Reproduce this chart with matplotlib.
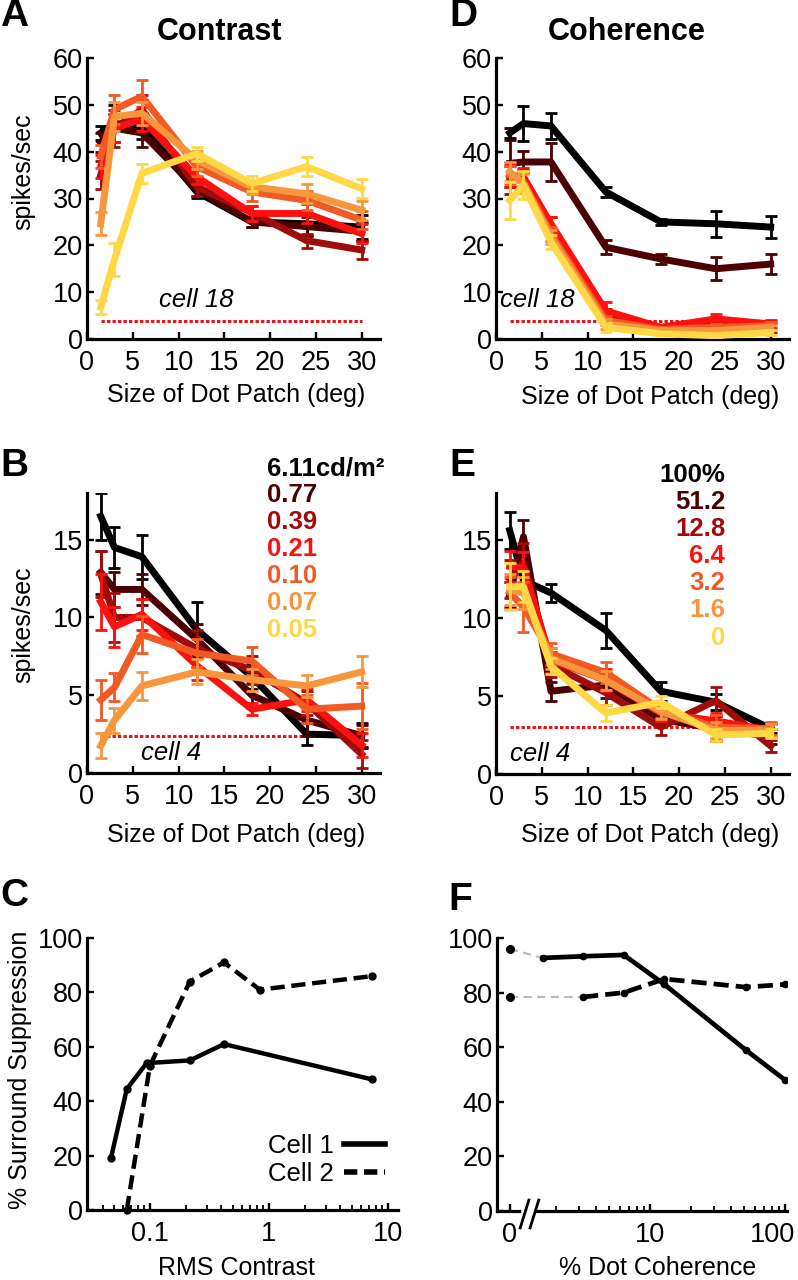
import numpy as np
import matplotlib.pyplot as plt
from matplotlib.lines import Line2D
from matplotlib.ticker import NullFormatter
from matplotlib.transforms import ScaledTranslation

plt.rcParams['font.family'] = ['Liberation Sans', 'DejaVu Sans']

# ---------------------------------------------------------------- data
sizes = [1.5, 3, 6, 12, 18, 24, 30]  # dot patch size (deg)

contrast_labels = ["6.11cd/m²", "0.77", "0.39", "0.21", "0.10", "0.07", "0.05"]
coherence_labels = ["100%", "51.2", "12.8", "6.4", "3.2", "1.6", "0"]
colors = ["#000000", "#4d0000", "#a00c0c", "#ff1010", "#f25a24", "#f7963c", "#ffd945"]

# A: contrast, cell 18 (rows follow contrast_labels)
a_mean = [
    [44.0, 46.0, 45.5, 31.4, 25.0, 24.6, 23.9],
    [42.0, 45.0, 44.0, 32.0, 25.0, 24.0, 23.0],
    [35.0, 45.0, 49.0, 32.5, 27.0, 21.0, 19.0],
    [36.8, 45.0, 47.0, 34.6, 26.8, 26.8, 22.5],
    [39.0, 49.0, 51.8, 36.8, 31.4, 29.6, 25.4],
    [24.6, 47.5, 48.2, 38.2, 32.5, 31.0, 27.5],
    [6.8, 17.0, 35.4, 39.6, 33.2, 36.8, 32.1],
]
a_err = [
    [1.5, 4.0, 2.8, 1.2, 1.0, 2.3, 2.5],
    [2.0, 3.0, 3.0, 1.5, 1.0, 2.0, 2.0],
    [3.0, 4.0, 3.0, 2.0, 1.5, 1.5, 2.0],
    [2.5, 3.0, 2.5, 1.5, 1.5, 2.0, 2.0],
    [2.5, 3.0, 3.5, 2.0, 2.0, 2.0, 2.0],
    [2.5, 3.0, 2.5, 2.0, 1.5, 2.0, 2.0],
    [1.5, 3.5, 2.0, 1.5, 1.5, 2.0, 2.0],
]
a_base = 3.9

# D: coherence, cell 18 (rows follow coherence_labels)
d_mean = [
    [44.0, 46.0, 45.5, 31.4, 25.0, 24.6, 23.9],
    [37.5, 37.8, 37.8, 19.6, 17.1, 15.0, 16.0],
    [34.0, 34.0, 24.0, 5.0, 2.0, 3.0, 2.5],
    [35.0, 34.6, 24.6, 6.0, 2.5, 4.3, 3.2],
    [35.0, 33.5, 22.5, 4.0, 2.0, 2.5, 2.8],
    [35.7, 33.2, 21.8, 3.2, 1.8, 1.8, 2.5],
    [29.6, 32.9, 20.7, 2.5, 1.1, 0.7, 1.4],
]
d_err = [
    [1.0, 3.7, 2.8, 1.0, 0.7, 2.8, 2.3],
    [5.0, 2.3, 4.0, 1.5, 1.0, 2.5, 2.2],
    [3.0, 2.0, 2.0, 1.5, 0.8, 1.0, 1.0],
    [2.5, 2.0, 1.5, 2.0, 0.5, 1.0, 0.8],
    [2.0, 2.0, 1.5, 1.0, 0.5, 0.8, 0.8],
    [2.0, 2.0, 1.5, 1.0, 0.5, 0.5, 0.5],
    [4.0, 3.0, 1.5, 1.0, 0.3, 0.3, 0.5],
]
d_base = 3.9

# B: contrast, cell 4 (no curve for the lowest contrast)
b_mean = [
    [16.5, 14.5, 13.9, 9.2, 6.2, 2.5, 2.4],
    [12.9, 11.8, 11.8, 8.6, 5.0, 3.4, 2.4],
    [12.8, 10.0, 10.0, 8.0, 6.6, 4.5, 1.2],
    [11.0, 9.4, 10.2, 6.9, 4.1, 4.7, 1.8],
    [4.7, 5.5, 8.9, 7.7, 7.2, 4.1, 4.3],
    [1.75, 3.4, 5.6, 6.5, 6.0, 5.6, 6.5],
    None,
]
b_err = [
    [1.5, 1.3, 1.4, 1.8, 0.8, 0.7, 0.8],
    [1.4, 1.1, 1.0, 1.0, 0.8, 1.0, 0.7],
    [1.5, 1.6, 1.2, 1.2, 0.9, 0.8, 0.9],
    [1.8, 1.3, 1.0, 0.9, 0.4, 0.7, 0.8],
    [1.3, 0.9, 1.2, 0.9, 0.9, 0.9, 1.5],
    [0.8, 0.8, 0.9, 0.8, 0.7, 0.7, 1.0],
    None,
]
b_base = 2.4

# E: coherence, cell 4
e_mean = [
    [15.6, 12.4, 11.6, 9.2, 5.3, 4.6, 2.9],
    [11.5, 15.2, 5.3, 5.7, 3.5, 2.9, 2.4],
    [12.5, 13.5, 7.0, 5.2, 3.0, 4.7, 1.8],
    [13.3, 13.2, 7.3, 6.0, 3.9, 3.4, 2.8],
    [11.6, 10.7, 7.7, 6.5, 4.1, 3.0, 2.9],
    [11.8, 11.6, 7.4, 6.0, 4.0, 2.8, 2.8],
    [12.0, 12.0, 6.9, 3.9, 4.6, 2.5, 2.6],
]
e_err = [
    [1.2, 0.8, 0.6, 1.1, 0.6, 0.5, 0.3],
    [0.8, 1.1, 0.6, 0.8, 0.4, 0.8, 0.5],
    [1.2, 1.3, 0.8, 0.8, 0.5, 0.9, 0.4],
    [1.0, 1.0, 0.8, 0.7, 0.5, 0.5, 0.4],
    [1.0, 1.6, 0.7, 0.7, 0.5, 0.8, 0.4],
    [1.0, 1.0, 0.7, 0.6, 0.5, 0.5, 0.4],
    [1.5, 1.0, 0.5, 0.5, 0.4, 0.4, 0.3],
]
e_base = 3.0

# C: surround suppression vs RMS contrast
c1_x = [0.047, 0.064, 0.094, 0.217, 0.42, 7.4]
c1_y = [19, 44.5, 54, 55, 61, 48]
c2_x = [0.064, 0.1, 0.217, 0.42, 0.84, 7.4]
c2_y = [0, 53, 84, 91, 81, 86]

# F: surround suppression vs dot coherence (0% drawn at a stand-in position)
f1_coh = [1.6, 3.2, 6.4, 12.8, 51.2, 100]
f1_y = [92.7, 93.3, 93.8, 83, 59, 48]
f1_zero = 96
f2_coh = [3.2, 6.4, 12.8, 51.2, 100]
f2_y = [78.4, 80, 85, 82, 83]
f2_zero = 78.4

# ---------------------------------------------------------------- layout
W, H = 798, 1280
fig = plt.figure(figsize=(W / 100, H / 100), dpi=100)


def add_ax(l, t, r, b):
    return fig.add_axes([l / W, 1 - b / H, (r - l) / W, (b - t) / H])


def style(ax):
    for s in ("top", "right"):
        ax.spines[s].set_visible(False)
    for s in ("left", "bottom"):
        ax.spines[s].set_linewidth(2.3)
    ax.tick_params(direction="in", width=1.7, length=5, labelsize=19.5)
    ax.tick_params(which="minor", direction="in", width=1.3, length=3.5)
    ax.tick_params(axis="x", pad=8)
    ax.tick_params(axis="y", pad=3)


def set_xlabel(ax, text, x, y):
    ax.set_xlabel(text, fontsize=18)
    ax.xaxis.set_label_coords(x, y)
    ax.xaxis.label.set_verticalalignment("center")


def set_ylabel(ax, text, x, y):
    ax.set_ylabel(text, fontsize=18)
    ax.yaxis.set_label_coords(x, y)
    ax.yaxis.label.set_verticalalignment("center")


def tuning_panel(ax, means, errs, base, ymax, yticks):
    style(ax)
    ax.plot([sizes[0], sizes[-1]], [base, base], color="#e8141c", lw=2.2,
            ls=(0, (1.1, 0.7)), zorder=1)
    for k, (m, e) in enumerate(zip(means, errs)):
        if m is None:
            continue
        ax.errorbar(sizes, m, yerr=e, color=colors[k], lw=5, elinewidth=2,
                    capsize=4.5, capthick=2, zorder=2 + k)
    ax.set_xlim(0, 32)
    ax.set_ylim(0, ymax)
    ax.set_xticks(range(0, 31, 5))
    ax.set_yticks(yticks)


axA = add_ax(87, 58, 380, 339)
tuning_panel(axA, a_mean, a_err, a_base, 60, range(0, 61, 10))
axA.text(11.9, 8.3, "cell 18", style="italic", fontsize=18.5, ha="center", va="center")
set_xlabel(axA, "Size of Dot Patch (deg)", 0.51, -0.199)
set_ylabel(axA, "spikes/sec", -0.218, 0.594)

axD = add_ax(496, 58, 789, 339)
tuning_panel(axD, d_mean, d_err, d_base, 60, range(0, 61, 10))
axD.text(0.4, 8.3, "cell 18", style="italic", fontsize=18.5, ha="left", va="center")
set_xlabel(axD, "Size of Dot Patch (deg)", 0.525, -0.206)

axB = add_ax(87, 493, 380, 773)
tuning_panel(axB, b_mean, b_err, b_base, 18, [0, 5, 10, 15])
axB.text(9.2, 1.3, "cell 4", style="italic", fontsize=18.5, ha="center", va="center")
set_xlabel(axB, "Size of Dot Patch (deg)", 0.51, -0.221)
set_ylabel(axB, "spikes/sec", -0.218, 0.529)
for k, lab in enumerate(contrast_labels):
    axB.text(0.614, 1.089 - k * 0.0964, lab, transform=axB.transAxes, color=colors[k],
             fontsize=18.5, fontweight="bold", ha="left", va="center")

axE = add_ax(496, 493, 789, 774)
tuning_panel(axE, e_mean, e_err, e_base, 18, [0, 5, 10, 15])
axE.text(1.5, 1.3, "cell 4", style="italic", fontsize=18.5, ha="left", va="center")
set_xlabel(axE, "Size of Dot Patch (deg)", 0.525, -0.218)
for k, lab in enumerate(coherence_labels):
    axE.text(0.782, 1.064 - k * 0.0964, lab, transform=axE.transAxes, color=colors[k],
             fontsize=18.5, fontweight="bold", ha="right", va="center")

# C
axC = add_ax(87, 938, 398, 1210)
style(axC)
axC.set_xscale("log")
axC.plot(c1_x, c1_y, color="black", lw=3.2, marker="o", ms=5, clip_on=False)
axC.plot(c2_x, c2_y, color="black", lw=3.2, ls=(0, (3.2, 1.5)), marker="o", ms=5,
         clip_on=False)
axC.set_xlim(0.0296, 12.2)
axC.set_ylim(0, 100)
axC.set_yticks(range(0, 101, 20))
axC.set_xticks([0.1, 1, 10])
axC.set_xticklabels(["0.1", "1", "10"])
axC.xaxis.set_minor_formatter(NullFormatter())
handles = [Line2D([], [], color="black", lw=4),
           Line2D([], [], color="black", lw=4, ls=(0, (2.4, 1.2)))]
axC.legend(handles, ["Cell 1", "Cell 2"], loc="lower right", bbox_to_anchor=(1.0, 0.04),
           frameon=False, markerfirst=False, fontsize=18.5, handlelength=1.6,
           handletextpad=0.4, labelspacing=0.15, borderpad=0)
set_xlabel(axC, "RMS Contrast", 0.482, -0.213)
set_ylabel(axC, "% Surround Suppression", -0.215, 0.515)

# F
zero_pos = 0.918  # where 0% coherence sits on the log axis
axF = add_ax(497, 938, 787, 1211)
style(axF)
axF.set_xscale("log")
axF.plot([zero_pos, f1_coh[0]], [f1_zero, f1_y[0]], color="#b8b8b8", lw=1.5,
         ls=(0, (4, 2.5)))
axF.plot([zero_pos, f2_coh[0]], [f2_zero, f2_y[0]], color="#b8b8b8", lw=1.5,
         ls=(0, (4, 2.5)))
axF.plot([zero_pos, zero_pos], [f1_zero, f2_zero], ls="none", marker="o", ms=5.5,
         color="black")
axF.plot(f1_coh, f1_y, color="black", lw=3.4, marker="o", ms=4.5)
axF.plot(f2_coh, f2_y, color="black", lw=3.4, ls=(0, (3.2, 1.5)), marker="o", ms=4.5)
axF.set_xlim(0.736, 103.5)
axF.set_ylim(0, 100)
axF.set_yticks(range(0, 101, 20))
axF.set_xticks([zero_pos, 10, 100])
axF.set_xticklabels(["0", "10", "100"])
axF.set_xticks(list(range(2, 10)) + list(range(20, 100, 10)), minor=True)
axF.xaxis.set_minor_formatter(NullFormatter())
# keep the "100" label inside the figure
last = axF.get_xticklabels()[-1]
last.set_transform(last.get_transform() + ScaledTranslation(-12 / 100, 0, fig.dpi_scale_trans))
# axis break
axF.plot([0.094, 0.121], [-0.005, -0.005], transform=axF.transAxes, color="white",
         lw=4, clip_on=False, zorder=5)
for x0 in (0.080, 0.114):
    axF.plot([x0, x0 + 0.03], [-0.062, 0.040], transform=axF.transAxes, color="black",
             lw=2, clip_on=False, zorder=6)
set_xlabel(axF, "% Dot Coherence", 0.555, -0.209)

# titles and panel letters
fig.text(220 / W, 1 - 32 / H, "Contrast", fontsize=22, fontweight="bold",
         ha="center", va="center")
fig.text(627 / W, 1 - 32 / H, "Coherence", fontsize=22, fontweight="bold",
         ha="center", va="center")
for lab, x, y in [("A", 14, 16), ("D", 463, 16), ("B", 14, 466), ("E", 462, 466),
                  ("C", 14, 896), ("F", 460, 900)]:
    fig.text(x / W, 1 - y / H, lab, fontsize=28, fontweight="bold",
             ha="center", va="center")

fig.savefig("out.png", dpi=100)
